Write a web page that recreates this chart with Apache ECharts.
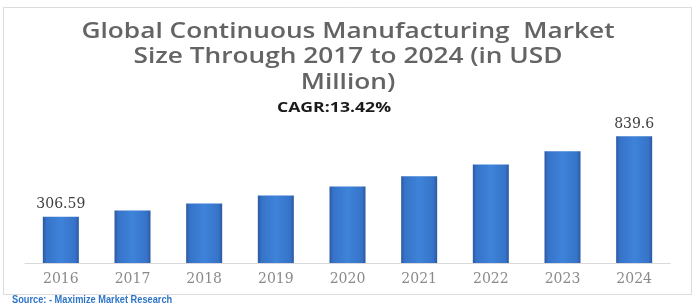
<!DOCTYPE html>
<html>
<head>
<meta charset="utf-8">
<script src="https://cdn.jsdelivr.net/npm/echarts@6/dist/echarts.min.js"></script>
<style>
html,body{margin:0;padding:0;background:#fff;}
#chart{width:698px;height:306px;}
</style>
</head>
<body>
<div id="chart"></div>
<script>
var years = ['2016','2017','2018','2019','2020','2021','2022','2023','2024'];
var marketSize = [306.59, 348, 394, 447, 507, 575, 653, 740, 839.6];
var labelledYears = ['2016','2024'];
var titleLines = ['Global Continuous Manufacturing  Market', 'Size Through 2017 to 2024 (in USD', 'Million)'];
var cagrText = 'CAGR:13.42%';
var sourceText = 'Source: - Maximize Market Research';

var chart = echarts.init(document.getElementById('chart'));
var barGradient = new echarts.graphic.LinearGradient(0, 0, 1, 0, [
  {offset: 0, color: '#2b58a0'},
  {offset: 0.1, color: '#3673c8'},
  {offset: 0.5, color: '#3e83da'},
  {offset: 0.9, color: '#3673c8'},
  {offset: 1, color: '#2b58a0'}
]);
var titleFont = '600 21px "Open Sans", sans-serif';
var graphics = [{
  type: 'rect',
  shape: {x: 3.5, y: 7.5, width: 688, height: 287},
  style: {fill: 'none', stroke: '#dcdcdc', lineWidth: 1},
  silent: true
}];
var lineY = [32, 57.5, 83];
titleLines.forEach(function (t, i) {
  graphics.push({
    type: 'text', x: 348, y: lineY[i], scaleX: 1.25,
    style: {text: t, fill: '#646464', font: titleFont, align: 'center', verticalAlign: 'middle'}
  });
});
graphics.push({
  type: 'text', x: 334, y: 108, scaleX: 1.26,
  style: {text: cagrText, fill: '#1a1a1a', font: 'bold 14px "Open Sans", sans-serif', align: 'center', verticalAlign: 'middle'}
});
graphics.push({
  type: 'text', x: 12, y: 300, scaleX: 0.84,
  style: {text: sourceText, fill: '#2e75c8', font: 'bold 11px "Liberation Sans", sans-serif', align: 'left', verticalAlign: 'middle'}
});

chart.setOption({
  backgroundColor: '#fff',
  animation: false,
  graphic: graphics,
  grid: {left: 25, right: 28, top: 112, bottom: 43, containLabel: false},
  xAxis: {
    type: 'category',
    data: years,
    axisLine: {lineStyle: {color: '#d9d9d9', width: 1}},
    axisTick: {show: false},
    axisLabel: {color: '#8a8a8a', fontFamily: 'DejaVu Serif', fontSize: 14, margin: 9}
  },
  yAxis: {
    type: 'value', min: 0, max: 1000,
    show: false,
    splitLine: {show: false}
  },
  series: [{
    type: 'bar',
    data: marketSize,
    barWidth: 36,
    itemStyle: {color: barGradient},
    label: {
      show: true,
      position: 'top',
      distance: 5,
      color: '#404040',
      fontFamily: 'DejaVu Serif',
      fontSize: 14,
      formatter: function (p) { return labelledYears.indexOf(p.name) >= 0 ? String(p.value) : ''; }
    }
  }]
});
</script>
</body>
</html>
